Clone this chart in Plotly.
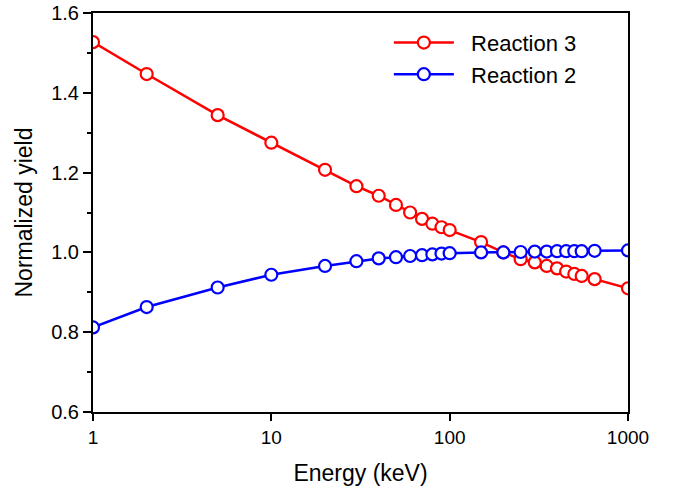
import plotly.graph_objects as go

energy = [1, 2, 5, 10, 20, 30, 40, 50, 60, 70, 80, 90, 100, 150, 200, 250, 300, 350, 400, 450, 500, 550, 650, 1000]
reaction3 = [1.527, 1.447, 1.344, 1.275, 1.207, 1.166, 1.142, 1.119, 1.100, 1.084, 1.072, 1.063, 1.056, 1.026, 1.000,
             0.983, 0.975, 0.966, 0.960, 0.952, 0.946, 0.941, 0.933, 0.910]
reaction2 = [0.812, 0.863, 0.912, 0.944, 0.966, 0.978, 0.985, 0.988, 0.991, 0.993, 0.995, 0.997, 0.998, 1.000, 1.000,
             1.001, 1.002, 1.002, 1.003, 1.003, 1.003, 1.003, 1.004, 1.005]
x_ticks = [1, 10, 100, 1000]
y_ticks = [0.6, 0.8, 1.0, 1.2, 1.4, 1.6]

FONT = "Liberation Sans, Arial, Helvetica, sans-serif"
NB = "\u00a0\u00a0"

fig = go.Figure()
fig.add_trace(go.Scatter(
    x=energy, y=reaction3, name=NB + "Reaction 3", mode="lines+markers",
    line=dict(color="#ff0000", width=2.5),
    marker=dict(symbol="circle", size=12, color="white", line=dict(color="#ff0000", width=2.2)),
))
fig.add_trace(go.Scatter(
    x=energy, y=reaction2, name=NB + "Reaction 2", mode="lines+markers",
    line=dict(color="#0000ff", width=2.5),
    marker=dict(symbol="circle", size=12, color="white", line=dict(color="#0000ff", width=2.2)),
))

fig.update_layout(
    width=673, height=492,
    margin=dict(l=93, r=45, t=13, b=80, autoexpand=False),
    paper_bgcolor="white", plot_bgcolor="white",
    font=dict(family=FONT, size=19, color="black"),
    legend=dict(
        x=0.553, y=0.978, xanchor="left", yanchor="top",
        bgcolor="rgba(0,0,0,0)", borderwidth=0, itemwidth=60,
        font=dict(family=FONT, size=22, color="black"),
    ),
    showlegend=True,
)

fig.update_xaxes(
    type="log", range=[0, 3], automargin=False,
    tickvals=x_ticks, ticktext=[str(v) for v in x_ticks],
    ticks="outside", ticklen=7, tickwidth=2, tickcolor="black",
    showline=True, linewidth=2, linecolor="black", mirror=True,
    showgrid=False, zeroline=False,
    tickfont=dict(family=FONT, size=19),
    title=dict(text="Energy (keV)", font=dict(family=FONT, size=23), standoff=18),
)
fig.update_yaxes(
    range=[0.6, 1.6], automargin=False,
    tickvals=y_ticks, tickformat=".1f",
    ticks="outside", ticklen=8, tickwidth=2, tickcolor="black",
    minor=dict(ticks="outside", ticklen=4, tickwidth=2, tickcolor="black", dtick=0.1, showgrid=False),
    showline=True, linewidth=2, linecolor="black", mirror=True,
    showgrid=False, zeroline=False,
    tickfont=dict(family=FONT, size=20),
    title=dict(text="Normalized yield", font=dict(family=FONT, size=23), standoff=12),
)

fig.write_html("out.html")
